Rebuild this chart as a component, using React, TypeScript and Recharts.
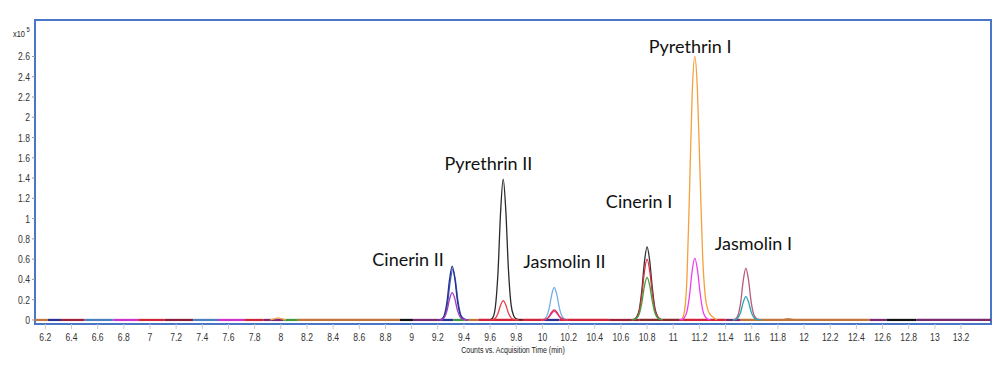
import React from 'react';
import { LineChart, Line, XAxis, YAxis, ReferenceArea, ReferenceDot } from 'recharts';

type Pt = [number, number];

// ---- axis ticks ----
const timeTicks = [6.2, 6.4, 6.6, 6.8, 7, 7.2, 7.4, 7.6, 7.8, 8, 8.2, 8.4, 8.6, 8.8, 9, 9.2, 9.4, 9.6, 9.8, 10, 10.2, 10.4, 10.6, 10.8, 11, 11.2, 11.4, 11.6, 11.8, 12, 12.2, 12.4, 12.6, 12.8, 13, 13.2];
const countTicks = [0, 0.2, 0.4, 0.6, 0.8, 1, 1.2, 1.4, 1.6, 1.8, 2, 2.2, 2.4, 2.6];
const timeDomain: [number, number] = [6.121, 13.429];
const countDomain: [number, number] = [-0.04, 2.96];
const xTitle = 'Counts vs. Acquisition Time (min)';

// ---- baseline trace segments (time from, time to) ----
const baselineSegments: Pt[] = [
  [6.121, 6.22], [6.22, 6.32], [6.32, 6.5], [6.5, 6.72], [6.72, 6.91], [6.91, 7.11],
  [7.11, 7.33], [7.33, 7.52], [7.52, 7.72], [7.72, 7.87], [7.87, 8.02], [8.02, 8.13],
  [8.13, 8.91], [8.91, 9.01], [9.01, 9.24], [9.24, 9.32], [9.32, 9.4], [9.4, 9.51],
  [9.51, 10.02], [10.02, 10.13], [10.13, 10.51], [10.51, 10.74], [10.74, 11.07],
  [11.07, 11.4], [11.4, 11.51], [11.51, 12.5], [12.5, 12.63], [12.63, 12.86], [12.86, 13.429],
];
const baselineColors = [
  '#c0763c', '#2b2f8f', '#9e1f3a', '#4a7fc0', '#cc33cc', '#d0243a',
  '#8b1d3a', '#4a7fc0', '#cc33cc', '#d0243a', '#7b2a6f', '#3c9a3c',
  '#c0763c', '#111111', '#7b2a6f', '#2b2f8f', '#3c9a3c', '#c0763c',
  '#d0243a', '#2b2f8f', '#d0243a', '#9e1f3a', '#8b2a2a',
  '#d0243a', '#7b2a6f', '#c0763c', '#7b2a6f', '#111111', '#7b2a6f',
];

// ---- peaks ----
const cinerin2Navy: Pt[] = [[9.21, 0], [9.23, 0.008], [9.25, 0.048], [9.27, 0.175], [9.29, 0.4], [9.31, 0.53], [9.33, 0.41], [9.35, 0.19], [9.37, 0.058], [9.39, 0.016], [9.41, 0.004], [9.43, 0]];
const cinerin2Blue: Pt[] = [[9.215, 0], [9.235, 0.007], [9.255, 0.045], [9.275, 0.165], [9.295, 0.38], [9.315, 0.5], [9.335, 0.39], [9.355, 0.18], [9.375, 0.055], [9.395, 0.015], [9.415, 0.004], [9.435, 0]];
const cinerin2Purple: Pt[] = [[9.21, 0], [9.23, 0.004], [9.25, 0.024], [9.27, 0.09], [9.29, 0.205], [9.31, 0.27], [9.33, 0.21], [9.35, 0.097], [9.37, 0.03], [9.39, 0.008], [9.41, 0.002], [9.43, 0]];

const pyrethrin2Black: Pt[] = [[9.6, 0], [9.62, 0.021], [9.64, 0.125], [9.66, 0.46], [9.68, 1.06], [9.7, 1.39], [9.72, 1.08], [9.74, 0.5], [9.76, 0.153], [9.78, 0.042], [9.8, 0.011], [9.82, 0.003], [9.85, 0]];
const pyrethrin2Red: Pt[] = [[9.6, 0], [9.62, 0.003], [9.64, 0.017], [9.66, 0.063], [9.68, 0.144], [9.7, 0.19], [9.72, 0.148], [9.74, 0.068], [9.76, 0.021], [9.78, 0.006], [9.8, 0.002], [9.82, 0]];

const jasmolin2LightBlue: Pt[] = [[9.99, 0], [10.01, 0.005], [10.03, 0.029], [10.05, 0.106], [10.07, 0.243], [10.09, 0.32], [10.11, 0.25], [10.13, 0.115], [10.15, 0.035], [10.17, 0.01], [10.19, 0]];
const jasmolin2Red: Pt[] = [[9.99, 0], [10.01, 0.002], [10.03, 0.009], [10.05, 0.033], [10.07, 0.076], [10.09, 0.1], [10.11, 0.078], [10.13, 0.036], [10.15, 0.011], [10.17, 0.003], [10.19, 0]];
const jasmolin2Magenta: Pt[] = [[9.99, 0], [10.01, 0.002], [10.03, 0.008], [10.05, 0.028], [10.07, 0.064], [10.09, 0.085], [10.11, 0.066], [10.13, 0.031], [10.15, 0.009], [10.17, 0.003], [10.19, 0]];

const cinerin1Black: Pt[] = [[10.68, 0], [10.7, 0.007], [10.72, 0.029], [10.74, 0.1], [10.76, 0.295], [10.78, 0.576], [10.8, 0.72], [10.82, 0.583], [10.84, 0.317], [10.86, 0.115], [10.88, 0.036], [10.9, 0.009], [10.92, 0]];
const cinerin1Red: Pt[] = [[10.68, 0], [10.7, 0.006], [10.72, 0.024], [10.74, 0.084], [10.76, 0.246], [10.78, 0.48], [10.8, 0.6], [10.82, 0.486], [10.84, 0.264], [10.86, 0.096], [10.88, 0.03], [10.9, 0.007], [10.92, 0]];
const cinerin1Green: Pt[] = [[10.68, 0], [10.7, 0.004], [10.72, 0.017], [10.74, 0.059], [10.76, 0.172], [10.78, 0.336], [10.8, 0.42], [10.82, 0.34], [10.84, 0.185], [10.86, 0.067], [10.88, 0.021], [10.9, 0.005], [10.92, 0]];

const pyrethrin1Orange: Pt[] = [[11.065, 0], [11.085, 0.078], [11.105, 0.42], [11.125, 1.3], [11.145, 2.24], [11.165, 2.6], [11.185, 2.26], [11.205, 1.43], [11.225, 0.62], [11.245, 0.23], [11.265, 0.1], [11.285, 0.05], [11.305, 0.026], [11.335, 0]];
const pyrethrin1Magenta: Pt[] = [[11.045, 0], [11.065, 0.006], [11.085, 0.024], [11.105, 0.085], [11.125, 0.25], [11.145, 0.49], [11.165, 0.61], [11.185, 0.494], [11.205, 0.268], [11.225, 0.098], [11.245, 0.03], [11.265, 0.007], [11.285, 0]];

const jasmolin1Mauve: Pt[] = [[11.455, 0], [11.475, 0.008], [11.495, 0.046], [11.515, 0.168], [11.535, 0.388], [11.555, 0.51], [11.575, 0.398], [11.595, 0.184], [11.615, 0.056], [11.635, 0.015], [11.655, 0.004], [11.675, 0]];
const jasmolin1Teal: Pt[] = [[11.455, 0], [11.475, 0.003], [11.495, 0.021], [11.515, 0.076], [11.535, 0.175], [11.555, 0.23], [11.575, 0.18], [11.595, 0.083], [11.615, 0.025], [11.635, 0.007], [11.655, 0.002], [11.675, 0]];

const bumpOrange: Pt[] = [[7.92, 0], [7.95, 0.01], [7.98, 0.02], [8.01, 0.01], [8.04, 0]];
const bumpBrown: Pt[] = [[11.83, 0], [11.86, 0.007], [11.88, 0.012], [11.9, 0.007], [11.93, 0]];

// ---- compound labels ----
const compoundNames = ['Cinerin II', 'Pyrethrin II', 'Jasmolin II', 'Cinerin I', 'Pyrethrin I', 'Jasmolin I'];
const compoundLabelTimes = [8.973, 9.587, 10.168, 10.739, 11.129, 11.613];
const compoundLabelCounts = [0.597, 1.543, 0.572, 1.164, 2.699, 0.757];

const peakTraces: { data: Pt[]; color: string }[] = [
  { data: bumpOrange, color: '#f0a050' },
  { data: bumpBrown, color: '#c0763c' },
  { data: cinerin2Blue, color: '#3d5fc4' },
  { data: cinerin2Navy, color: '#27308a' },
  { data: cinerin2Purple, color: '#a43cc0' },
  { data: pyrethrin2Black, color: '#2a2a2a' },
  { data: pyrethrin2Red, color: '#e8404a' },
  { data: jasmolin2LightBlue, color: '#74aee8' },
  { data: jasmolin2Magenta, color: '#d040d0' },
  { data: jasmolin2Red, color: '#e0304a' },
  { data: cinerin1Black, color: '#333333' },
  { data: cinerin1Red, color: '#e03040' },
  { data: cinerin1Green, color: '#3fa040' },
  { data: pyrethrin1Orange, color: '#f5a040' },
  { data: pyrethrin1Magenta, color: '#ee40ee' },
  { data: jasmolin1Mauve, color: '#b85a78' },
  { data: jasmolin1Teal, color: '#2aa6b0' },
];

const axisFont = "'Liberation Sans', Arial, sans-serif";
const labelFont = "Lato, 'Open Sans', sans-serif";
const squeeze = 'scale(0.78,1)';

const toObjs = (pts: Pt[]) => pts.map(([t, v]) => ({ t, v }));
const fmt = (v: number) => String(v);

const XTick = (props: any) => {
  const { x, y, payload } = props;
  return (
    <g transform={`translate(${x},${y})`}>
      <text x={0} y={0} dy="0.71em" textAnchor="middle" fontSize={11} fill="#333" fontFamily={axisFont} transform={squeeze}>
        {fmt(payload.value)}
      </text>
    </g>
  );
};

const YTick = (props: any) => {
  const { x, y, payload } = props;
  return (
    <g transform={`translate(${x},${y})`}>
      <text x={0} y={0} dy="0.36em" textAnchor="end" fontSize={11} fill="#333" fontFamily={axisFont} transform={squeeze}>
        {fmt(payload.value)}
      </text>
    </g>
  );
};

const XTitle = (props: any) => {
  const vb = props.viewBox || { x: 35, y: 324, width: 956, height: 36 };
  return (
    <g transform={`translate(${vb.x + vb.width / 2},${vb.y + vb.height - 7})`}>
      <text x={0} y={0} textAnchor="middle" fontSize={9} fill="#222" fontFamily={axisFont} transform={squeeze}>
        {xTitle}
      </text>
    </g>
  );
};

const ExpLabel = () => (
  <g transform="translate(13,37)">
    <text x={0} y={0} fontSize={9.5} fill="#222" fontFamily={axisFont} transform={squeeze}>
      x10
      <tspan dx={2} dy={-5} fontSize={7.5}>5</tspan>
    </text>
  </g>
);

export default function App() {
  return (
    <div style={{ position: 'absolute', left: 0, top: 0, width: 1000, height: 370, background: '#fff' }}>
      <LineChart width={1000} height={370} margin={{ top: 20, right: 9, bottom: 10, left: 0 }}>
        <XAxis
          type="number"
          dataKey="t"
          domain={timeDomain}
          ticks={timeTicks}
          allowDataOverflow
          interval={0}
          tickFormatter={fmt}
          tick={<XTick />}
          tickLine={{ stroke: '#c8c8c8' }}
          tickSize={5}
          tickMargin={4}
          axisLine={false}
          height={36}
          label={(p: any) => <XTitle {...p} />}
        />
        <YAxis
          type="number"
          domain={countDomain}
          ticks={countTicks}
          allowDataOverflow
          interval={0}
          width={35}
          tickFormatter={fmt}
          tick={<YTick />}
          tickLine={{ stroke: '#999' }}
          tickSize={3}
          tickMargin={2}
          axisLine={false}
          label={() => <ExpLabel />}
        />
        {baselineSegments.map((seg, i) => (
          <Line
            key={'b' + i}
            data={toObjs([[seg[0], 0], [seg[1], 0]])}
            dataKey="v"
            type="linear"
            stroke={baselineColors[i]}
            strokeWidth={2.2}
            dot={false}
            activeDot={false}
            isAnimationActive={false}
            legendType="none"
          />
        ))}
        {peakTraces.map((tr, i) => (
          <Line
            key={'p' + i}
            data={toObjs(tr.data)}
            dataKey="v"
            type="monotone"
            stroke={tr.color}
            strokeWidth={1.3}
            dot={false}
            activeDot={false}
            isAnimationActive={false}
            legendType="none"
          />
        ))}
        <ReferenceArea
          x1={timeDomain[0]}
          x2={timeDomain[1]}
          y1={countDomain[0]}
          y2={countDomain[1]}
          fill="none"
          stroke="#4a76c8"
          strokeWidth={2}
          ifOverflow="visible"
        />
        {compoundNames.map((name, i) => (
          <ReferenceDot
            key={name}
            x={compoundLabelTimes[i]}
            y={compoundLabelCounts[i]}
            r={0}
            fill="none"
            stroke="none"
            ifOverflow="visible"
            label={{ value: name, position: 'center', fontSize: 18, fill: '#111', fontFamily: labelFont }}
          />
        ))}
      </LineChart>
    </div>
  );
}
